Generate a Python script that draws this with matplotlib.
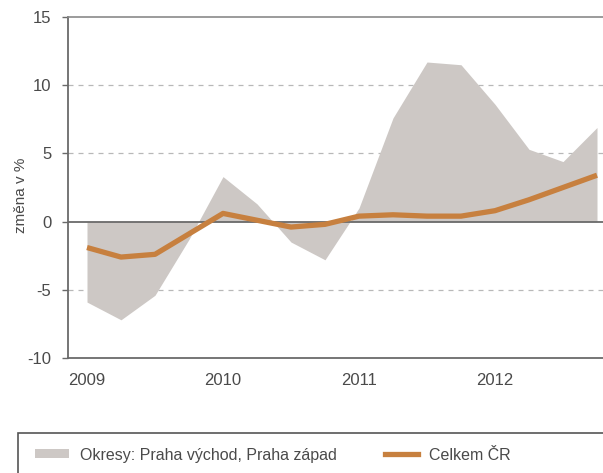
import matplotlib
matplotlib.use("Agg")
import matplotlib.pyplot as plt
from matplotlib.patches import Rectangle, Patch
from matplotlib.lines import Line2D
import numpy as np

plt.rcParams['font.family'] = ['Liberation Sans', 'DejaVu Sans']
plt.rcParams['axes.unicode_minus'] = False

# quarterly data 2009Q1 .. 2012Q4
quarters = list(range(16))
okresy = [-5.9, -7.2, -5.4, -1.3, 3.3, 1.3, -1.5, -2.8, 1.0, 7.6, 11.7, 11.5, 8.6, 5.3, 4.4, 6.9]
celkem = [-1.9, -2.6, -2.4, -0.9, 0.6, 0.1, -0.4, -0.2, 0.4, 0.5, 0.4, 0.4, 0.8, 1.6, 2.5, 3.4]
year_ticks = [0, 4, 8, 12]
year_labels = ["2009", "2010", "2011", "2012"]
y_ticks = [-10, -5, 0, 5, 10, 15]

label_fill = "Okresy: Praha východ, Praha západ"
label_line = "Celkem ČR"

W, H = 603, 473
fig = plt.figure(figsize=(W / 100, H / 100), dpi=100)
fig.patch.set_facecolor("white")

ax_left, ax_top, ax_bottom, ax_right = 68, 17, 358, 603
ax = fig.add_axes([ax_left / W, 1 - ax_bottom / H, (ax_right - ax_left) / W, (ax_bottom - ax_top) / H])

fill_c = "#cdc8c5"
line_c = "#c7803f"
text_c = "#4a4a4a"
spine_c = "#6a6a6a"

x = np.array(quarters)
ax.fill_between(x, 0, okresy, color=fill_c, linewidth=0, zorder=1)
for yv in [-5, 5, 10]:
    ax.axhline(yv, color="#b8b8b8", linestyle=(0, (4, 4)), linewidth=0.9, zorder=0.5)
ax.axhline(0, color=spine_c, linewidth=1.3, zorder=2)
ax.plot(x, celkem, color=line_c, linewidth=3.8, solid_capstyle="butt", zorder=3)

ax.set_xlim((ax_left - 87) / 34, (ax_right - 87) / 34)
ax.set_ylim(-10, 15)
ax.set_yticks(y_ticks)
ax.set_xticks(year_ticks)
ax.set_xticklabels(year_labels)

ax.spines["right"].set_visible(False)
for s in ["left", "bottom"]:
    ax.spines[s].set_color(spine_c)
    ax.spines[s].set_linewidth(1.3)
ax.spines["top"].set_color("#8a8a8a")
ax.spines["top"].set_linewidth(1.2)

ax.tick_params(axis="y", direction="out", length=4, width=1, color=spine_c,
               labelsize=12, labelcolor=text_c, pad=8)
ax.tick_params(axis="x", length=0, labelsize=12, labelcolor=text_c, pad=11)

ax.set_ylabel("změna v %", fontsize=11, color=text_c)
ax.yaxis.set_label_coords(-0.075, 0.478)

# legend box
box = Rectangle((18 / W, -0.05), 1.0, 1 - 433 / H + 0.05, transform=fig.transFigure,
                facecolor="white", edgecolor="#555555", linewidth=1.2)
fig.add_artist(box)
handles = [Patch(facecolor=fill_c, edgecolor="none"),
           Line2D([], [], color=line_c, linewidth=3.8)]
leg = fig.legend(handles, [label_fill, label_line], ncol=2, frameon=False,
                 loc="center left", bbox_to_anchor=(35 / W, 1 - 455 / H),
                 fontsize=11.5, labelcolor=text_c, handlelength=2.1, handleheight=0.5,
                 handletextpad=0.7, columnspacing=3.0, borderpad=0, borderaxespad=0)

fig.savefig("out.png", dpi=100, facecolor="white")
